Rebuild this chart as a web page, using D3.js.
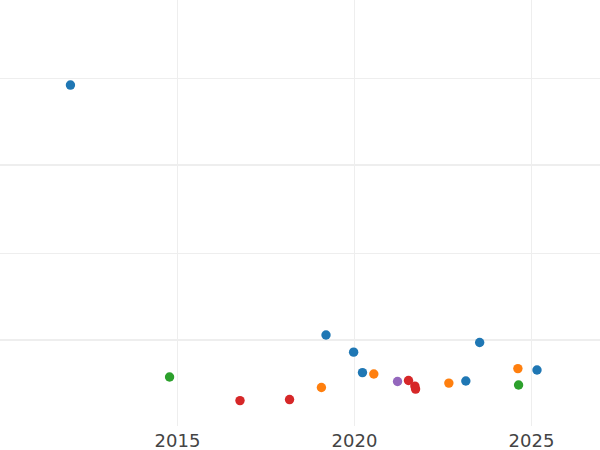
<!DOCTYPE html>
<html><head><meta charset="utf-8">
<script src="https://cdn.jsdelivr.net/npm/d3@7"></script>
<style>html,body{margin:0;padding:0;background:#fff;}svg{display:block;}</style>
</head><body>
<svg id="chart" width="600" height="450"></svg>
<script>
const years = [2011.99, 2014.79, 2016.78, 2018.18, 2019.08, 2019.21, 2019.99, 2020.24, 2020.56, 2021.23, 2021.54, 2021.72, 2021.74, 2022.68, 2023.16, 2023.55, 2024.63, 2024.65, 2025.17];
const values = [245.7, 78.9, 65.4, 66.0, 72.9, 102.9, 93.1, 81.4, 80.6, 76.3, 76.9, 73.7, 72.0, 75.4, 76.6, 98.6, 83.7, 74.3, 82.9];
const groups = ["A", "C", "D", "D", "B", "A", "A", "A", "B", "E", "D", "D", "D", "B", "A", "A", "B", "C", "A"];
const groupNames = ["A", "B", "C", "D", "E"];
const groupColors = ["#1f77b4", "#ff7f0e", "#2ca02c", "#d62728", "#9467bd"];
const xTicks = [2015, 2020, 2025];
const yMajor = [100, 200];
const yMinor = [150, 250];

const W = 600, H = 450;
const plotBottom = 426;
const x = d3.scaleLinear().domain([2010, 2026.95]).range([0, W]);
const y = d3.scaleLinear().domain([50.9, 294.3]).range([plotBottom, 0]);
const color = d3.scaleOrdinal().domain(groupNames).range(groupColors);

const svg = d3.select("#chart");
const grid = svg.append("g");
grid.selectAll("line.minor").data(yMinor).join("line")
  .attr("x1", 0).attr("x2", W)
  .attr("y1", d => Math.round(y(d)) + 0.5).attr("y2", d => Math.round(y(d)) + 0.5)
  .attr("stroke", "#eeeeee").attr("stroke-width", 1);
grid.selectAll("line.major").data(yMajor).join("line")
  .attr("x1", 0).attr("x2", W)
  .attr("y1", d => y(d)).attr("y2", d => y(d))
  .attr("stroke", "#eeeeee").attr("stroke-width", 2);
grid.selectAll("line.vx").data(xTicks).join("line")
  .attr("x1", d => Math.round(x(d)) + 0.5).attr("x2", d => Math.round(x(d)) + 0.5)
  .attr("y1", 0).attr("y2", plotBottom)
  .attr("stroke", "#eeeeee").attr("stroke-width", 1);

const xAxis = d3.axisBottom(x).tickValues(xTicks).tickFormat(d3.format("d")).tickSize(0).tickPadding(8);
const ax = svg.append("g").attr("transform", `translate(0,${plotBottom})`).call(xAxis);
ax.select(".domain").remove();
ax.selectAll("text").attr("fill", "#444").style("font-family", "'DejaVu Sans', sans-serif").style("font-size", "18px");

const pts = years.map((yr, i) => ({yr, v: values[i], g: groups[i]}));
svg.append("g").selectAll("circle").data(pts).join("circle")
  .attr("cx", d => x(d.yr)).attr("cy", d => y(d.v)).attr("r", 4.7)
  .attr("fill", d => color(d.g));
</script>
</body></html>
